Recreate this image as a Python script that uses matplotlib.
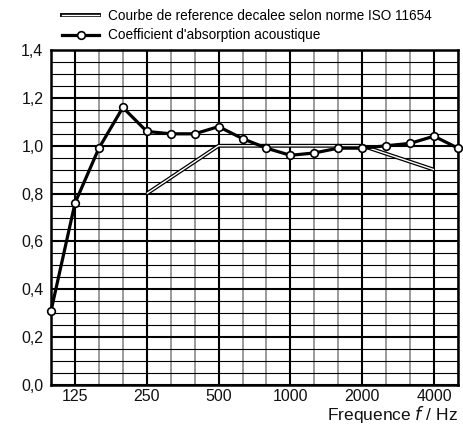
import numpy as np
import matplotlib.pyplot as plt
from matplotlib.lines import Line2D

plt.rcParams['font.family'] = ['Liberation Sans', 'DejaVu Sans']

# third-octave bands, Hz
bands = [100, 125, 160, 200, 250, 315, 400, 500, 630, 800,
         1000, 1250, 1600, 2000, 2500, 3150, 4000, 5000]
alpha = [0.31, 0.76, 0.99, 1.16, 1.06, 1.05, 1.05, 1.08, 1.03, 0.99,
         0.96, 0.97, 0.99, 0.99, 1.00, 1.01, 1.04, 0.99]

# shifted reference curve ISO 11654
ref_bands = [250, 500, 1000, 2000, 4000]
ref_vals = [0.80, 1.00, 1.00, 1.00, 0.90]

xlabels = ['125', '250', '500', '1000', '2000', '4000']
ylabels = ['0,0', '0,2', '0,4', '0,6', '0,8', '1,0', '1,2', '1,4']

idx = {b: i for i, b in enumerate(bands)}
x = np.arange(len(bands))
xr = [idx[b] for b in ref_bands]

fig = plt.figure(figsize=(4.64, 4.28), dpi=100)
ax = fig.add_axes([0.110, 0.1005, 0.877, 0.7825])

ax.set_xlim(0, len(bands) - 1)
ax.set_ylim(0, 1.4)

# grid
for i, b in enumerate(bands):
    if str(b) in xlabels:
        ax.axvline(i, color='black', lw=1.5, zorder=1)
    else:
        ax.axvline(i, color='#8a8a8a', lw=1.2, zorder=1)
for v in np.arange(0, 1.41, 0.05):
    if abs(v / 0.2 - round(v / 0.2)) < 1e-6:
        ax.axhline(v, color='black', lw=1.5, zorder=1)
    else:
        ax.axhline(v, color='black', lw=0.8, zorder=1)

# reference curve as double line
ax.plot(xr, ref_vals, color='black', lw=2.8, solid_capstyle='butt', zorder=3)
ax.plot(xr, ref_vals, color='white', lw=1.0, solid_capstyle='butt', zorder=3)

ax.plot(x, alpha, color='black', lw=2.3, marker='o', ms=5.5,
        mfc='white', mec='black', mew=1.2, zorder=4, clip_on=False)

ax.set_xticks([idx[int(s)] for s in xlabels])
ax.set_xticklabels(xlabels)
ax.set_yticks(np.arange(0, 1.41, 0.2))
ax.set_yticklabels(ylabels)
ax.tick_params(length=0, labelsize=11.5, pad=3, colors='#111111')
ax.tick_params(axis='y', pad=5.5)
for s in ax.spines.values():
    s.set_linewidth(1.8)
ax.set_xlabel('Frequence $\\mathit{f}$ / Hz', fontsize=12.5, loc='right',
              labelpad=0)
ax.xaxis.label.set_color('#111111')

h_ref = (Line2D([], [], color='black', lw=2.8),
         Line2D([], [], color='white', lw=1.0))
h_abs = Line2D([], [], color='black', lw=2.3, marker='o', ms=5.5,
               mfc='white', mec='black', mew=1.2)
fig.legend([h_ref, h_abs],
           ['Courbe de reference decalee selon norme ISO 11654',
            "Coefficient d'absorption acoustique"],
           loc='upper left', bbox_to_anchor=(0.108, 1.008), frameon=False,
           fontsize=9.8, handlelength=2.7, handletextpad=0.66,
           labelspacing=0.4)

fig.savefig('out.png', dpi=100)
